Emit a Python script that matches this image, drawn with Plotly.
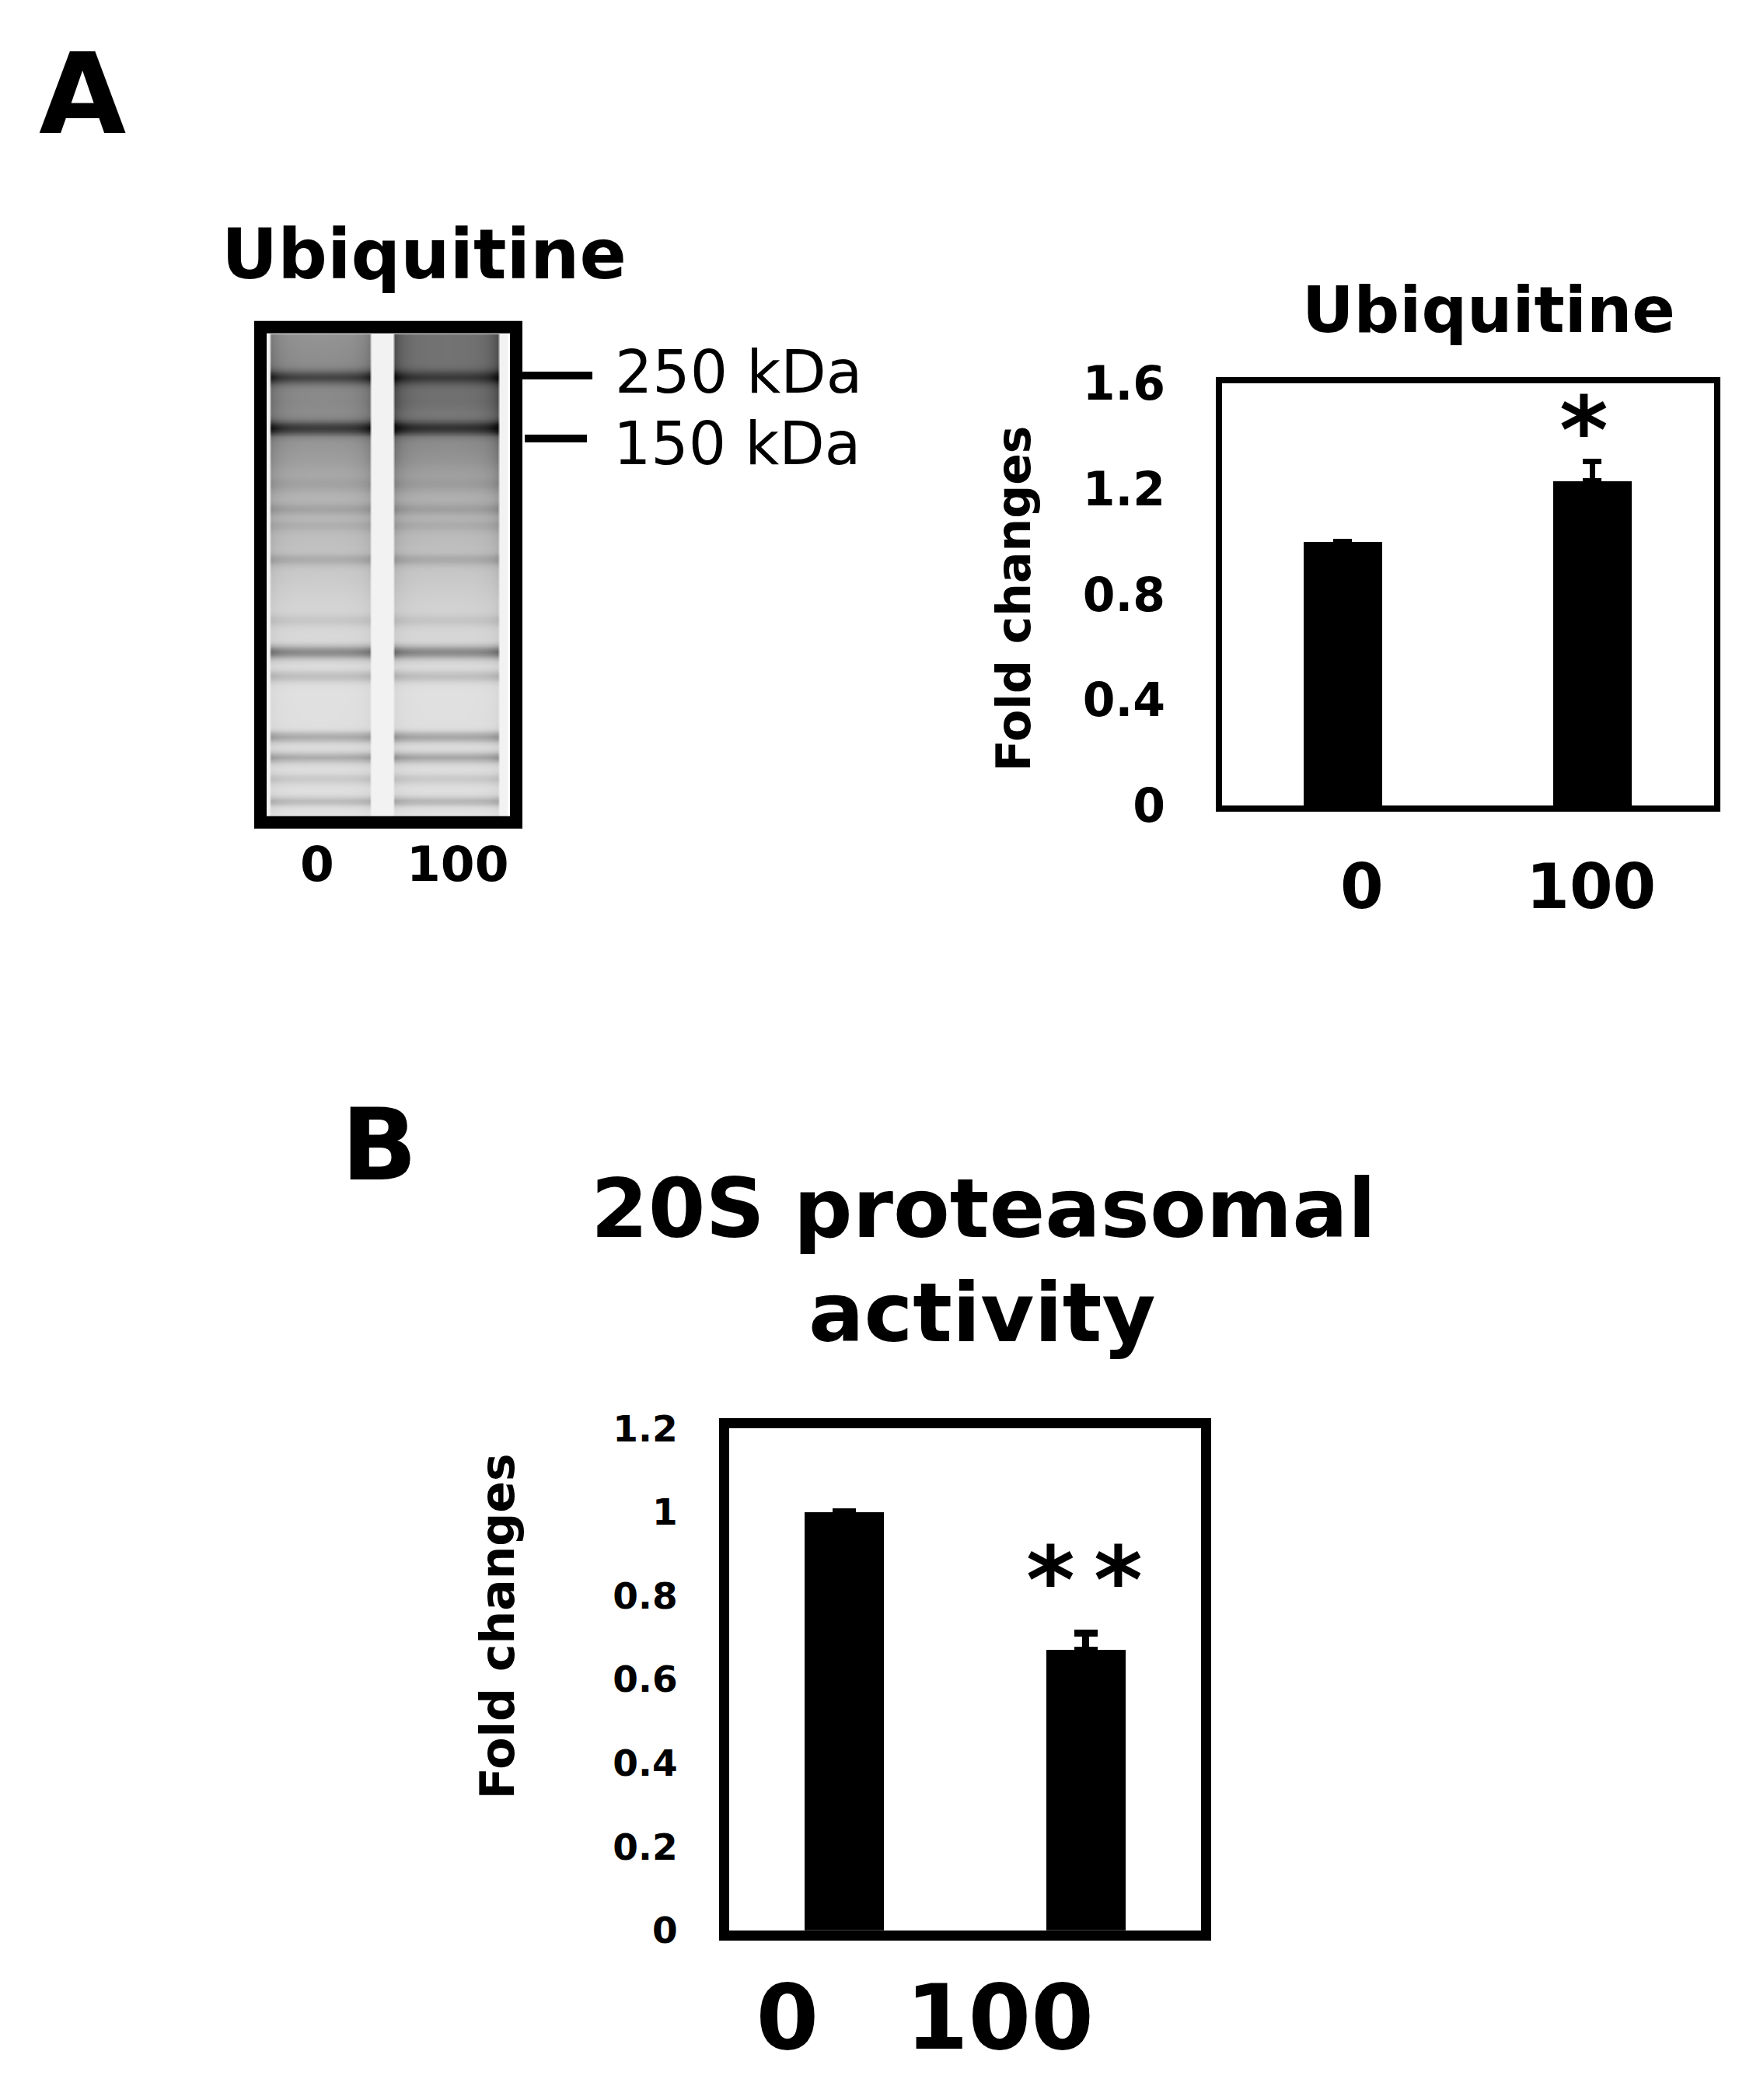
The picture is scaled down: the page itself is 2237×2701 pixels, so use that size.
import numpy as np
import plotly.graph_objects as go

W, H = 2237, 2701
FAM = "DejaVu Sans"

# ---------------- data ----------------
# Panel A: ubiquitine quantification
ubq_groups = ["0", "100"]
ubq_values = [1.0, 1.23]
ubq_err = [None, 0.075]
ubq_yticks = [0, 0.4, 0.8, 1.2, 1.6]
ubq_yticklabels = ["0", "0.4", "0.8", "1.2", "1.6"]

# Panel B: 20S proteasomal activity
prot_groups = ["0", "100"]
prot_values = [1.0, 0.67]
prot_err = [None, 0.04]
prot_yticks = [0, 0.2, 0.4, 0.6, 0.8, 1.0, 1.2]
prot_yticklabels = ["0", "0.2", "0.4", "0.6", "0.8", "1", "1.2"]

# Western blot (lane 0 / lane 100): background smear and discrete bands
blot_lanes = ["0", "100"]
smear_y = [405, 450, 495, 540, 570, 610, 690, 760, 880, 1000, 1049]
smear_lane0 = [0.42, 0.45, 0.46, 0.42, 0.38, 0.30, 0.24, 0.17, 0.12, 0.13, 0.10]
smear_lane1 = [0.55, 0.55, 0.56, 0.46, 0.42, 0.32, 0.25, 0.18, 0.12, 0.13, 0.10]
band_y = [462, 529, 604, 636, 658, 703, 783, 825, 857, 937, 964, 992, 1022]
band_lane0 = [0.28, 0.34, 0.05, 0.08, 0.05, 0.10, 0.06, 0.32, 0.12, 0.20, 0.20, 0.08, 0.15]
band_lane1 = [0.22, 0.32, 0.05, 0.08, 0.05, 0.10, 0.06, 0.32, 0.12, 0.22, 0.22, 0.08, 0.17]
band_sigma = [9, 9, 9, 7, 7, 7, 7, 8, 7, 7, 7, 6, 6]
markers = ["250 kDa", "150 kDa"]

# ---------------- helpers ----------------
def px(x):
    return x / W

def py(y):
    return 1 - y / H

def bfont(size):
    return dict(family=FAM, size=size, color="black", weight="bold")

fig = go.Figure()

# ---------------- blot heatmap ----------------
gel_x = np.arange(343, 654, 3)
gel_y = np.arange(405, 1050, 4)
z = np.full((len(gel_y), len(gel_x)), 0.05)
lane_bounds = [(348, 477), (508, 640)]
for (x0, x1), smear, bands in zip(lane_bounds, [smear_lane0, smear_lane1], [band_lane0, band_lane1]):
    prof = np.interp(gel_y, smear_y, smear)
    for yb, d, s in zip(band_y, bands, band_sigma):
        prof = prof + d * np.exp(-((gel_y - yb) / s) ** 2)
    for j, xv in enumerate(gel_x):
        if x0 <= xv <= x1:
            edge = min(xv - x0, x1 - xv)
            mult = 1.0 + 0.25 * np.exp(-edge / 12.0)
            z[:, j] = np.clip(prof * mult, 0, 0.95)

fig.add_trace(go.Heatmap(
    x=gel_x, y=gel_y, z=z, zmin=0, zmax=1,
    colorscale=[[0, "white"], [1, "black"]], showscale=False,
    zsmooth="best", hoverinfo="skip", xaxis="x3", yaxis="y3"))

# ---------------- bar charts ----------------
fig.add_trace(go.Bar(
    x=[0, 1], y=ubq_values, width=0.315, marker=dict(color="black", line=dict(width=0)),
    error_y=dict(type="data", symmetric=False, array=ubq_err, arrayminus=[None, 0],
                 color="black", thickness=7, width=12),
    xaxis="x", yaxis="y", hoverinfo="skip"))

fig.add_trace(go.Bar(
    x=[0, 1], y=prot_values, width=0.325, marker=dict(color="black", line=dict(width=0)),
    error_y=dict(type="data", symmetric=False, array=prot_err, arrayminus=[None, 0],
                 color="black", thickness=9, width=15),
    xaxis="x2", yaxis="y2", hoverinfo="skip"))

# ---------------- layout ----------------
ann = []

def text(t, x, y, size, bold=True, angle=0, xref="paper", yref="paper"):
    f = bfont(size) if bold else dict(family=FAM, size=size, color="black")
    ann.append(dict(text=t, x=x, y=y, xref=xref, yref=yref, showarrow=False,
                    xanchor="center", yanchor="middle", textangle=angle, font=f))

# panel letters
text("A", px(106), py(88), 145)
text("B", px(488), py(1476), 128)

# blot labels
text("Ubiquitine", px(545), py(300), 89)
text(markers[0], px(950), py(455), 76, bold=False)
text(markers[1], px(948), py(550), 76, bold=False)
text(blot_lanes[0], px(408), py(1105), 63)
text(blot_lanes[1], px(589), py(1105), 63)

# top-right chart texts
text("Ubiquitine", px(1915), py(373), 82)
text("Fold changes", px(1304), py(755), 60, angle=-90)
text("*", 0.967, 1.42, 120, xref="x", yref="y")

# bottom chart texts
text("20S proteasomal", px(1265), py(1560), 106)
text("activity", px(1263), py(1697), 106)
text("Fold changes", px(640), py(2111), 60, angle=-90)
text("*", 0.855, 0.836, 120, xref="x2", yref="y2")
text("*", 1.132, 0.836, 120, xref="x2", yref="y2")

shapes = [
    # blot frame
    dict(type="rect", xref="paper", yref="paper", x0=px(335), x1=px(664), y0=py(1050), y1=py(396),
         line=dict(color="black", width=16), fillcolor="rgba(0,0,0,0)"),
    # marker lines
    dict(type="line", xref="paper", yref="paper", x0=px(672), x1=px(762), y0=py(460), y1=py(460),
         line=dict(color="black", width=10)),
    dict(type="line", xref="paper", yref="paper", x0=px(675), x1=px(755), y0=py(543), y1=py(543),
         line=dict(color="black", width=10)),
]

axis_common = dict(showgrid=False, zeroline=False, showline=True, mirror=True,
                   linecolor="black", ticks="", fixedrange=True)

fig.update_layout(
    width=W, height=H, margin=dict(l=0, r=0, t=0, b=0),
    paper_bgcolor="white", plot_bgcolor="white", showlegend=False,
    annotations=ann, shapes=shapes, bargap=0,
    xaxis=dict(domain=[px(1572), px(2205)], range=[-0.484, 1.488], linewidth=8, anchor="y",
               tickvals=[0.076, 0.995], ticktext=ubq_groups, ticklabelstandoff=28,
               tickfont=bfont(80), **axis_common),
    yaxis=dict(domain=[py(1028), py(470)], range=[0, 1.6], linewidth=8, anchor="x",
               tickvals=ubq_yticks, ticktext=ubq_yticklabels, ticklabelstandoff=53,
               tickfont=bfont(60), **axis_common),
    xaxis2=dict(domain=[px(938), px(1545)], range=[-0.476, 1.476], linewidth=13, anchor="y2",
                tickvals=[-0.235, 0.643], ticktext=prot_groups, ticklabelstandoff=0,
                tickfont=bfont(116), **axis_common),
    yaxis2=dict(domain=[py(2513), py(1850)], range=[0, 1.2], linewidth=13, anchor="x2",
                tickvals=prot_yticks, ticktext=prot_yticklabels, ticklabelstandoff=44,
                tickfont=bfont(47), **axis_common),
    xaxis3=dict(domain=[px(343), px(653)], range=[343, 653], visible=False, fixedrange=True,
                anchor="y3"),
    yaxis3=dict(domain=[py(1049), py(405)], range=[1049, 405], visible=False, fixedrange=True,
                anchor="x3"),
)

fig.write_html("out.html", config={"displayModeBar": False},
               post_script="document.body.style.margin='0';document.body.style.overflow='hidden';")
